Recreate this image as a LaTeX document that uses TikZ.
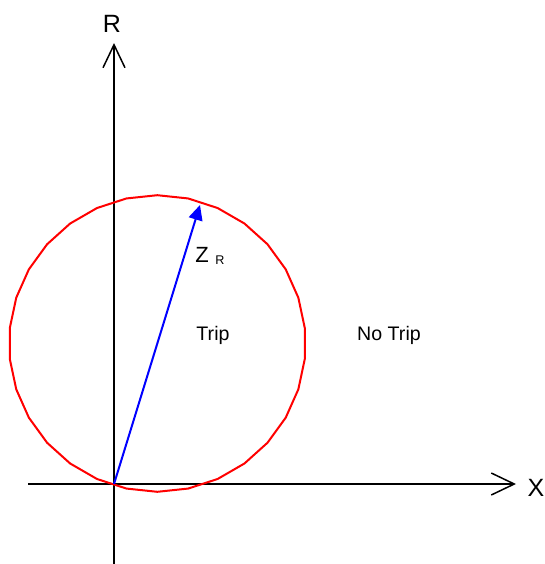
\documentclass[tikz,border=0pt]{standalone}
\usepackage{fontspec}
\setmainfont{Liberation Sans}
\usetikzlibrary{positioning, arrows.meta}

\begin{document}
\begin{tikzpicture}[x=0.5pt, y=-0.5pt, >=Stealth,
  axis/.style={line width=0.75pt, black,
    -{Straight Barb[length=11.5pt, width=11pt, line width=0.75pt]}},
  axislabel/.style={font=\fontsize{12.5}{14}\selectfont, inner sep=0pt},
  regionlabel/.style={font=\fontsize{9.8}{12}\selectfont, inner sep=0pt}]

\useasboundingbox (0, 0) rectangle (545, 564);

% --- Axes ---
\coordinate (O) at (114, 484);
\coordinate (Rbot) at (114, 564);
\coordinate (Rtop) at (114, 43);
\coordinate (Xleft) at (28, 484);
\coordinate (Xright) at (516, 484);
\draw[axis] (Rbot) -- (Rtop);
\draw[axis] (Xleft) -- (Xright);

% --- Axis titles ---
\node[axislabel] (Rlab) at (112, 24) {R};
\node[axislabel] (Xlab) at (536, 488) {X};

% --- Trip characteristic (mho circle) ---
\draw[red, line width=1pt]
  plot[samples=31, domain=90:450] ({157.3 + 148.3*cos(\x)}, {343.5 - 148.3*sin(\x)}) -- cycle;

% --- Reach impedance ---
\coordinate (Ztip) at (200, 205);
\draw[blue, line width=1pt, -{Triangle[length=7.5pt, width=7pt]}] (O) -- (Ztip);
\node[font=\fontsize{11}{13}\selectfont, inner sep=0pt] (Zlab) at (202, 255) {Z};
\node[font=\fontsize{6.3}{8}\selectfont, inner sep=0pt] (Zsub) at (220, 260) {R};

% --- Regions ---
\node[regionlabel] (trip) at (213, 335) {Trip};
\node[regionlabel] (notrip) at (389, 335) {No Trip};

\end{tikzpicture}
\end{document}
